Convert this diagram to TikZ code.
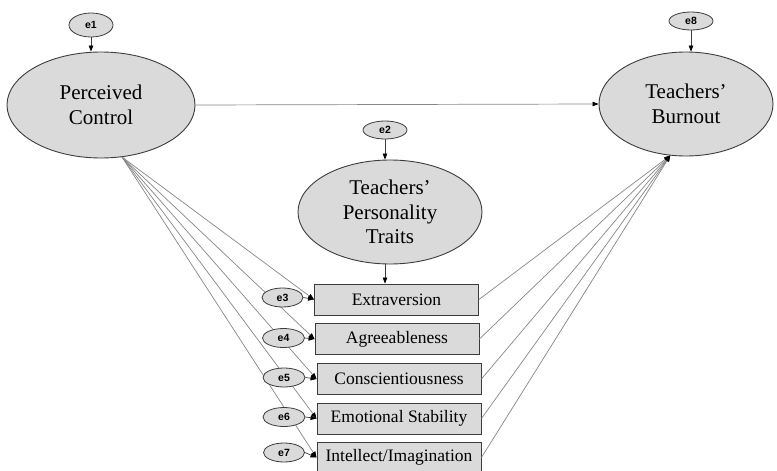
\documentclass[tikz,border=0pt]{standalone}
\usepackage{fontspec}
\setmainfont{Liberation Serif}
\newfontfamily\labfont{Liberation Sans}
\usetikzlibrary{shapes.geometric,arrows.meta}
\definecolor{latentfill}{RGB}{218,218,218}
\definecolor{edgeline}{RGB}{60,60,60}
\definecolor{pathgray}{RGB}{135,135,135}
\begin{document}
\begin{tikzpicture}[x=1pt,y=-1pt,
  latent/.style={ellipse, draw=edgeline, fill=latentfill, line width=0.9pt,
    inner sep=0pt, align=center, font=\fontsize{21}{24.5}\selectfont},
  errvar/.style={ellipse, draw=edgeline, fill=latentfill, line width=0.8pt,
    inner sep=0pt, font=\labfont\bfseries\fontsize{10.5}{12}\selectfont},
  observed/.style={rectangle, draw=edgeline, fill=latentfill, line width=0.9pt,
    minimum width=164pt, minimum height=31pt, inner sep=0pt,
    font=\fontsize{17.5}{20}\selectfont},
  regpath/.style={draw=pathgray, line width=0.7pt,
    -{Triangle[length=6pt,width=4.5pt,color=black]}},
  errpath/.style={draw=edgeline, line width=0.7pt,
    -{Triangle[length=6pt,width=4.5pt,color=black]}}
]
\useasboundingbox[fill=white] (0,0) rectangle (777,471);

% latent variables
\node[latent, minimum width=188pt, minimum height=106pt] (pc) at (101,105) {Perceived\\Control};
\node[latent, minimum width=174pt, minimum height=104pt] (bo) at (686,104) {Teachers’\\Burnout};
\node[latent, minimum width=184pt, minimum height=104pt] (pt) at (390,212) {Teachers’\\Personality\\Traits};

% error terms of the latent variables
\node[errvar, minimum width=44pt, minimum height=24pt] (e1) at (91,25) {e1};
\node[errvar, minimum width=44pt, minimum height=18pt] (e8) at (691,21) {e8};
\node[errvar, minimum width=44pt, minimum height=18pt] (e2) at (385,130) {e2};

% observed personality traits
\node[observed] (ex) at (396.5,299.5) {Extraversion};
\node[observed] (ag) at (397,339) {Agreeableness};
\node[observed] (co) at (399,379) {Conscientiousness};
\node[observed] (es) at (399,418.5) {Emotional Stability};
\node[observed] (ii) at (399,457.5) {Intellect/Imagination};

% common ends of the fanned paths
\coordinate (pcout) at (pc.-68);
\coordinate (boin) at (bo.-107);

% paths from perceived control to each trait (the error terms sit on top)
\foreach \t in {ex,ag,co,es,ii}
  \draw[regpath] (pcout) -- (\t.west);

% error terms of the observed traits
\node[errvar, minimum width=41pt, minimum height=19pt] (e3) at (282.5,297.5) {e3};
\node[errvar, minimum width=42pt, minimum height=19pt] (e4) at (283.5,338) {e4};
\node[errvar, minimum width=42pt, minimum height=19pt] (e5) at (284,377.5) {e5};
\node[errvar, minimum width=42pt, minimum height=19pt] (e6) at (284,417) {e6};
\node[errvar, minimum width=41pt, minimum height=19pt] (e7) at (284,452.5) {e7};

% paths from each trait to burnout
\foreach \t in {ex,ag,co,es,ii}
  \draw[regpath] (\t.east) -- (boin);

% structural paths
\draw[regpath] (pc.east) -- (bo.west);
\draw[errpath] (e2.south |- pt.south) -- (e2.south |- ex.north);

% error paths
\draw[errpath] (e1.south) -- (e1.south |- pc.north);
\draw[errpath] (e8.south) -- (e8.south |- bo.north);
\draw[errpath] (e2.south) -- (e2.south |- pt.north);
\draw[errpath] (e3.east) -- (ex.west);
\draw[errpath] (e4.east) -- (ag.west);
\draw[errpath] (e5.east) -- (co.west);
\draw[errpath] (e6.east) -- (es.west);
\draw[errpath] (e7.east) -- (ii.west);
\end{tikzpicture}
\end{document}
